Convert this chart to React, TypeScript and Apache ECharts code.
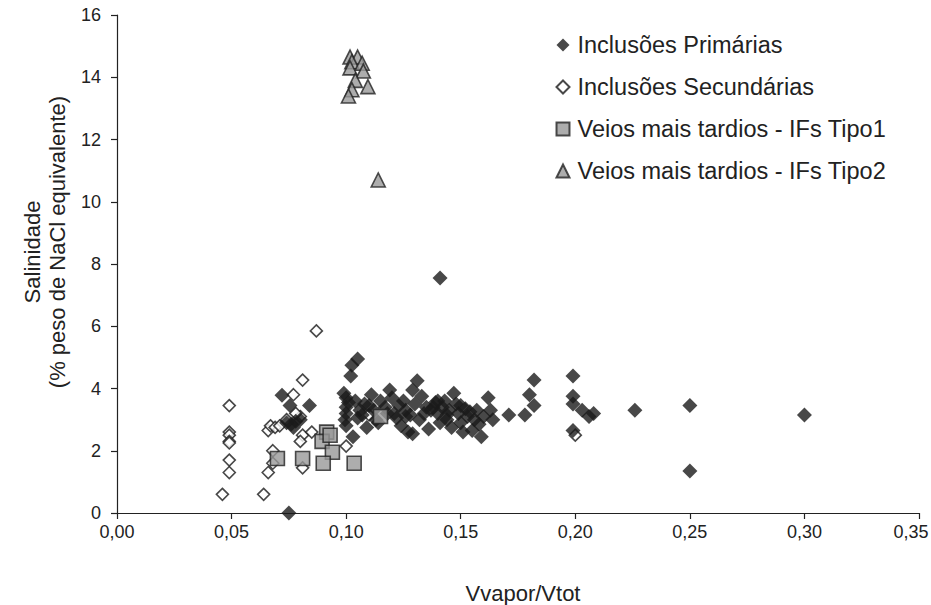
import React, { useEffect, useRef } from "react";
import * as echarts from "echarts";

const xTicks = [0, 0.05, 0.1, 0.15, 0.2, 0.25, 0.3, 0.35];
const yTicks = [0, 2, 4, 6, 8, 10, 12, 14, 16];

const primaryX = [
  0.075, 0.072, 0.0755, 0.084, 0.076, 0.078, 0.080, 0.077, 0.074,
  0.105, 0.1025, 0.102, 0.099, 0.1, 0.1, 0.1, 0.0995, 0.1, 0.103, 0.105, 0.104, 0.106, 0.108, 0.109, 0.111, 0.112, 0.113,
  0.117, 0.119, 0.12, 0.121, 0.122, 0.124, 0.125, 0.126, 0.127, 0.129, 0.131, 0.13, 0.129, 0.132, 0.133, 0.135, 0.136,
  0.137, 0.139, 0.14, 0.141, 0.141, 0.142, 0.143, 0.144, 0.145, 0.146, 0.147, 0.148, 0.149, 0.15, 0.151, 0.152, 0.153, 0.155, 0.156, 0.157, 0.158, 0.159, 0.162, 0.163, 0.164,
  0.171, 0.178, 0.18, 0.182, 0.182,
  0.199, 0.199, 0.199, 0.203, 0.206, 0.208, 0.199, 0.226, 0.25, 0.25, 0.3,
  0.101, 0.107, 0.110, 0.115, 0.118, 0.123, 0.128, 0.134, 0.138, 0.144, 0.150, 0.154, 0.160, 0.114, 0.126, 0.140,
];
const primaryY = [
  0.0, 3.78, 3.45, 3.45, 2.85, 2.95, 3.0, 2.75, 2.9,
  4.95, 4.75, 4.4, 3.85, 3.7, 3.4, 3.2, 3.0, 2.8, 2.45, 3.05, 3.6, 3.3, 3.5, 2.75, 3.8, 3.3, 3.0,
  3.4, 3.95, 3.7, 3.2, 3.05, 2.8, 3.6, 3.3, 2.6, 3.95, 4.25, 3.5, 2.55, 3.0, 3.75, 3.4, 2.7,
  3.3, 3.55, 3.2, 2.9, 7.55, 3.4, 3.6, 3.0, 3.3, 2.75, 3.85, 3.5, 3.2, 2.9, 2.6, 3.35, 3.1, 2.65, 3.0, 3.3, 2.85, 2.45, 3.7, 3.3, 3.0,
  3.15, 3.15, 3.8, 3.45, 4.27,
  4.4, 3.75, 3.5, 3.3, 3.1, 3.2, 2.65, 3.3, 3.45, 1.35, 3.15,
  3.55, 3.15, 3.45, 3.6, 3.2, 3.45, 3.15, 3.2, 3.4, 3.15, 3.45, 3.25, 3.1, 2.9, 3.1, 3.6,
];

const secondaryX = [
  0.049, 0.049, 0.049, 0.049, 0.049, 0.049, 0.049, 0.046, 0.064, 0.066, 0.068, 0.068,
  0.066, 0.067, 0.069, 0.071, 0.074, 0.077, 0.081, 0.080, 0.081, 0.080, 0.081, 0.087,
  0.1, 0.110, 0.2, 0.078, 0.085,
];
const secondaryY = [
  3.45, 2.6, 2.5, 2.3, 2.25, 1.7, 1.3, 0.6, 0.6, 1.3, 1.6, 2.0,
  2.65, 2.8, 2.75, 2.8, 3.0, 3.8, 4.27, 3.1, 2.5, 2.3, 1.45, 5.85,
  2.15, 3.15, 2.5, 3.2, 2.6,
];

const tipo1X = [0.070, 0.081, 0.0915, 0.0895, 0.093, 0.094, 0.090, 0.1035, 0.115];
const tipo1Y = [1.75, 1.75, 2.6, 2.3, 2.5, 1.95, 1.6, 1.6, 3.1];

const tipo2X = [0.1017, 0.105, 0.1025, 0.107, 0.1017, 0.1075, 0.104, 0.1095, 0.1025, 0.101, 0.114];
const tipo2Y = [14.65, 14.65, 14.5, 14.45, 14.3, 14.2, 13.9, 13.7, 13.6, 13.4, 10.7];

const names = [
  "Inclusões Primárias",
  "Inclusões Secundárias",
  "Veios mais tardios - IFs Tipo1",
  "Veios mais tardios - IFs Tipo2",
];

const yTitle1 = "Salinidade";
const yTitle2 = "(% peso de NaCl equivalente)";
const xTitle = "Vvapor/Vtot";

const zip = (xs: number[], ys: number[]) => xs.map((x, i) => [x, ys[i]]);

const FONT = "'Liberation Sans', Arial, sans-serif";
const TXT = "#222222";
const X_MAX = xTicks[xTicks.length - 1];

export default function App() {
  const ref = useRef<HTMLDivElement>(null);
  useEffect(() => {
    if (!ref.current) return;
    const chart = echarts.init(ref.current, undefined, { renderer: "svg" });
    chart.setOption({
      animation: false,
      backgroundColor: "#ffffff",
      textStyle: { fontFamily: FONT },
      grid: { left: 117, right: 12, top: 15, bottom: 92, containLabel: false, outerBoundsMode: "none" },
      legend: {
        orient: "vertical",
        left: 555.5,
        top: 33,
        padding: 0,
        itemWidth: 13,
        itemHeight: 13,
        itemGap: 18,
        data: names,
        textStyle: { fontSize: 23.5, color: TXT, fontFamily: FONT, lineHeight: 24, padding: [0, 0, 0, 3] },
      },
      graphic: [
        {
          type: "text",
          x: 32,
          y: 252,
          rotation: Math.PI / 2,
          style: { text: yTitle1, fontSize: 22, fill: TXT, fontFamily: FONT, align: "center", verticalAlign: "middle" },
        },
        {
          type: "text",
          x: 57,
          y: 242,
          rotation: Math.PI / 2,
          style: { text: yTitle2, fontSize: 22, fill: TXT, fontFamily: FONT, align: "center", verticalAlign: "middle" },
        },
        {
          type: "text",
          x: 523,
          y: 593,
          style: { text: xTitle, fontSize: 22, fill: TXT, fontFamily: FONT, align: "center", verticalAlign: "middle" },
        },
      ],
      xAxis: {
        type: "value",
        min: xTicks[0],
        max: X_MAX,
        interval: 0.05,
        axisLine: { onZero: false, lineStyle: { color: TXT, width: 1.2 } },
        axisTick: { show: true, length: 6, lineStyle: { color: TXT, width: 1.2 } },
        splitLine: { show: false },
        axisLabel: {
          fontSize: 18,
          color: TXT,
          margin: 10,
          fontFamily: FONT,
          formatter: (v: number) => {
            const s = v.toFixed(2).replace(".", ",");
            return Math.abs(v - X_MAX) < 1e-9 ? "{last|" + s + "}" : s;
          },
          rich: {
            last: { fontSize: 18, color: TXT, fontFamily: FONT, padding: [0, 16, 0, 0] },
          },
        },
      },
      yAxis: {
        type: "value",
        min: yTicks[0],
        max: yTicks[yTicks.length - 1],
        interval: 2,
        axisLine: { show: true, lineStyle: { color: TXT, width: 1.2 } },
        axisTick: { show: true, length: 6, lineStyle: { color: TXT, width: 1.2 } },
        splitLine: { show: false },
        axisLabel: { fontSize: 18, color: TXT, margin: 16, fontFamily: FONT },
      },
      series: [
        {
          name: names[1],
          type: "scatter",
          symbol: "diamond",
          symbolSize: 12,
          data: zip(secondaryX, secondaryY),
          itemStyle: { color: "#ffffff", borderColor: "#1a1a1a", borderWidth: 1.6 },
        },
        {
          name: names[0],
          type: "scatter",
          symbol: "diamond",
          symbolSize: 15,
          data: zip(primaryX, primaryY),
          itemStyle: { color: "#1a1a1a", borderColor: "#1a1a1a", borderWidth: 0 },
        },
        {
          name: names[2],
          type: "scatter",
          symbol: "rect",
          symbolSize: 14,
          data: zip(tipo1X, tipo1Y),
          itemStyle: { color: "#999999", borderColor: "#222", borderWidth: 1.6 },
        },
        {
          name: names[3],
          type: "scatter",
          symbol: "triangle",
          symbolSize: 14,
          data: zip(tipo2X, tipo2Y),
          itemStyle: { color: "#999999", borderColor: "#222", borderWidth: 1.6 },
        },
      ],
    });
    return () => chart.dispose();
  }, []);
  return <div ref={ref} style={{ width: 931, height: 605, position: "absolute", left: 0, top: 0 }} />;
}
